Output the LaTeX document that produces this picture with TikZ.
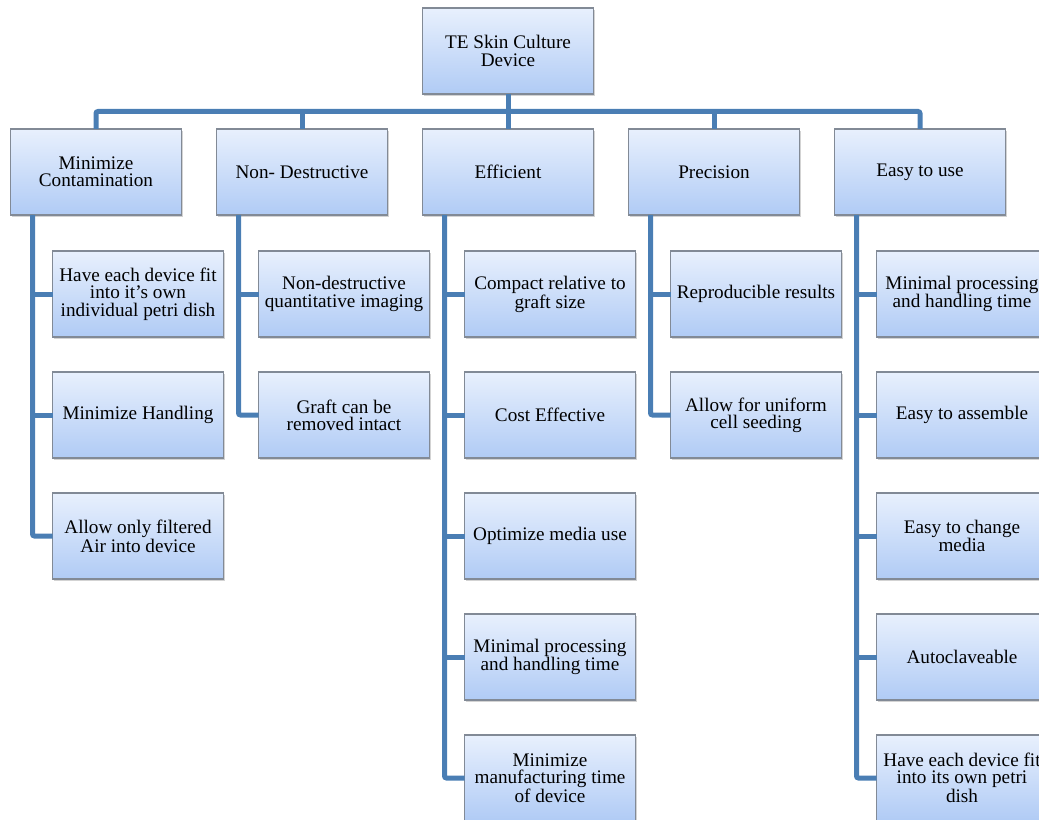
\documentclass[tikz,border=0pt]{standalone}
\usepackage{fontspec}
\setmainfont{Liberation Serif}
\usetikzlibrary{positioning, shadows}
\usepackage{xcolor}
\definecolor{boxtop}{RGB}{232,240,253}
\definecolor{boxbot}{RGB}{176,203,245}
\definecolor{boxline}{RGB}{130,138,150}
\definecolor{busblue}{RGB}{74,126,180}

\begin{document}
\begin{tikzpicture}[
                node distance=26.25pt,
                align=center,
                box/.style={rectangle, draw=boxline, thick, top color=boxtop, bottom color=boxbot,
                            minimum width=128.25pt, minimum height=64.5pt, inner sep=1pt, outer sep=0pt,
                            font=\fontsize{14.4}{13}\selectfont,
                            drop shadow={shadow xshift=1.2pt, shadow yshift=-1.5pt, opacity=0.35}},
                bus/.style={draw=busblue, line width=3.75pt, rounded corners=1.5pt},
                ]

                % Frame of the picture
                \useasboundingbox (0,0) rectangle (779.25pt,-615pt);

                % Top node and the five criteria in one row
                \node [box] (device) at (381pt,-38.25pt) {TE Skin Culture\\Device};
                \node [box, below=of device] (effic) {Efficient};
                \node [box, left=of effic] (nondest) {Non- Destructive};
                \node [box, left=of nondest] (mincont) {Minimize\\Contamination};
                \node [box, right=of effic] (precis) {Precision};
                \node [box, right=of precis] (easy) {Easy to use};

                % Sub-criteria, one column under each criterion
                \node [box, below=27pt of mincont, xshift=31.5pt] (mincontA) {Have each device fit\\into it’s own\\individual petri dish};
                \node [box, below=of mincontA] (mincontB) {Minimize Handling};
                \node [box, below=of mincontB] (mincontC) {Allow only filtered\\Air into device};

                \node [box, below=27pt of nondest, xshift=31.5pt] (nondestA) {Non-destructive\\quantitative imaging};
                \node [box, below=of nondestA] (nondestB) {Graft can be\\removed intact};

                \node [box, below=27pt of effic, xshift=31.5pt] (efficA) {Compact relative to\\graft size};
                \node [box, below=of efficA] (efficB) {Cost Effective};
                \node [box, below=of efficB] (efficC) {Optimize media use};
                \node [box, below=of efficC] (efficD) {Minimal processing\\and handling time};
                \node [box, below=of efficD] (efficE) {Minimize\\manufacturing time\\of device};

                \node [box, below=27pt of precis, xshift=31.5pt] (precisA) {Reproducible results};
                \node [box, below=of precisA] (precisB) {Allow for uniform\\cell seeding};

                \node [box, below=27pt of easy, xshift=31.5pt] (easyA) {Minimal processing\\and handling time};
                \node [box, below=of easyA] (easyB) {Easy to assemble};
                \node [box, below=of easyB] (easyC) {Easy to change\\media};
                \node [box, below=of easyC] (easyD) {Autoclaveable};
                \node [box, below=of easyD] (easyE) {Have each device fit\\into its own petri\\dish};

                % Bus from the top node to the criteria
                \path (device.south) -- (effic.north) coordinate[midway] (hub);
                \draw[bus] (mincont.north) |- (hub) -| (easy.north);
                \draw[bus, rounded corners=0pt] (device.south) -- (effic.north);
                \draw[bus, rounded corners=0pt] (nondest.north) -- (nondest.north |- hub);
                \draw[bus, rounded corners=0pt] (precis.north) -- (precis.north |- hub);

                % Spines from each criterion to its sub-criteria
                \coordinate (mincontS) at ([xshift=16.5pt]mincont.south west);
                \coordinate (nondestS) at ([xshift=16.5pt]nondest.south west);
                \coordinate (efficS) at ([xshift=16.5pt]effic.south west);
                \coordinate (precisS) at ([xshift=16.5pt]precis.south west);
                \coordinate (easyS) at ([xshift=16.5pt]easy.south west);

                \draw[bus] (mincontS) |- (mincontC.west);
                \draw[bus] (mincontA.west) -- (mincontA.west -| mincontS);
                \draw[bus] (mincontB.west) -- (mincontB.west -| mincontS);

                \draw[bus] (nondestS) |- (nondestB.west);
                \draw[bus] (nondestA.west) -- (nondestA.west -| nondestS);

                \draw[bus] (efficS) |- (efficE.west);
                \foreach \n in {efficA, efficB, efficC, efficD}
                        \draw[bus] (\n.west) -- (\n.west -| efficS);

                \draw[bus] (precisS) |- (precisB.west);
                \draw[bus] (precisA.west) -- (precisA.west -| precisS);

                \draw[bus] (easyS) |- (easyE.west);
                \foreach \n in {easyA, easyB, easyC, easyD}
                        \draw[bus] (\n.west) -- (\n.west -| easyS);

            \end{tikzpicture}
\end{document}
